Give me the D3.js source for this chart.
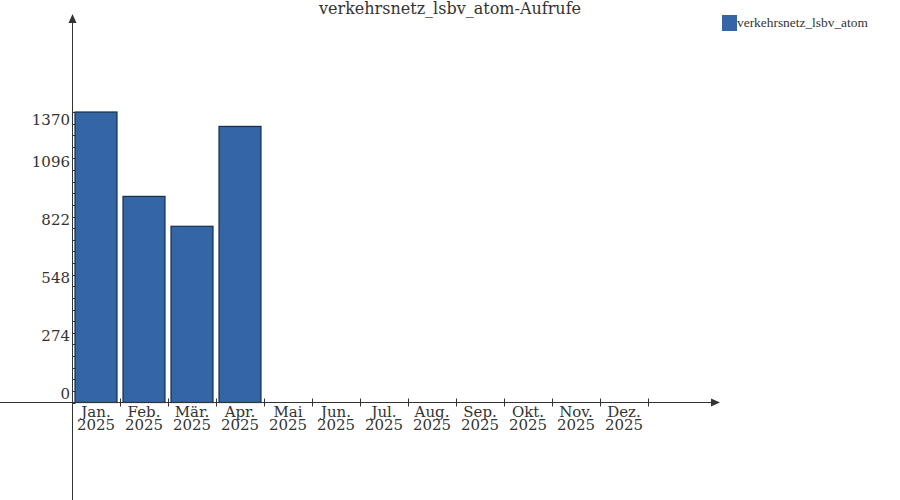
<!DOCTYPE html>
<html><head><meta charset="utf-8">
<script src="https://cdn.jsdelivr.net/npm/d3@7"></script>
<style>body{margin:0;background:#fff}svg{display:block}</style>
</head><body>
<svg id="c" width="900" height="500"></svg>
<script>
const months = ["Jan.","Feb.","Mär.","Apr.","Mai","Jun.","Jul.","Aug.","Sep.","Okt.","Nov.","Dez."];
const year = "2025";
const values = [1370, 972, 831, 1302, 0, 0, 0, 0, 0, 0, 0, 0];
const yTicks = [0, 274, 548, 822, 1096, 1370];
const seriesName = "verkehrsnetz_lsbv_atom";
const title = "verkehrsnetz_lsbv_atom-Aufrufe";

const svg = d3.select("#c");
const font = "DejaVu Serif";
const axisCol = "#333";
const x0 = 72.5, yBase = 402.5;

const x = d3.scaleBand().domain(months).range([72, 648]).paddingInner(0.125).paddingOuter(0.0625);
const y = d3.scaleLinear().domain([0, 1370]).range([yBase, 112]);

// bars
svg.append("g").selectAll("rect").data(values.map((v,i)=>({m:months[i],v})).filter(d=>d.v>0))
  .join("rect")
  .attr("x", d=>x(d.m)).attr("width", x.bandwidth())
  .attr("y", d=>y(d.v)).attr("height", d=>yBase-y(d.v))
  .attr("fill","#3465a4").attr("stroke","#172f4d").attr("stroke-width",1.2);

// x axis
const g = svg.append("g");
g.append("line").attr("x1",0).attr("x2",714).attr("y1",yBase).attr("y2",yBase).attr("stroke",axisCol);
g.append("path").attr("d",`M720,${yBase} L711,${yBase-4} L711,${yBase+4} Z`).attr("fill",axisCol);
const step = x.step();
const bounds = d3.range(months.length+1).map(i=>72+i*step);
g.selectAll(".xt").data(bounds.slice(1)).join("line")
  .attr("x1",d=>d+0.5).attr("x2",d=>d+0.5).attr("y1",yBase-4).attr("y2",yBase+4).attr("stroke",axisCol);
const lbl = g.selectAll(".xl").data(months).join("text")
  .attr("font-family",font).attr("font-size",15).attr("fill",axisCol).attr("text-anchor","middle");
lbl.append("tspan").attr("x",d=>72+months.indexOf(d)*step+step/2).attr("y",416.5).text(d=>d);
lbl.append("tspan").attr("x",d=>72+months.indexOf(d)*step+step/2).attr("y",429.5).text(year);

// y axis
g.append("line").attr("x1",x0).attr("x2",x0).attr("y1",500).attr("y2",22).attr("stroke",axisCol);
g.append("path").attr("d",`M${x0},14 L${x0-4},23 L${x0+4},23 Z`).attr("fill",axisCol);
const minor = d3.range(0, 1370+0.01, 274/5);
g.selectAll(".ym").data(minor).join("line")
  .attr("x1",x0).attr("x2",x0+3).attr("y1",d=>Math.round(y(d))+0.5).attr("y2",d=>Math.round(y(d))+0.5).attr("stroke",axisCol);
const topTick = yTicks[yTicks.length-1];
g.selectAll(".yl").data(yTicks).join("text")
  .attr("x",70).attr("y",d=> d===topTick ? y(d)+13 : y(d)-3.5).attr("text-anchor","end")
  .attr("font-family",font).attr("font-size",15).attr("fill",axisCol).text(d=>d);

// title
svg.append("text").attr("x",450).attr("y",13.5).attr("text-anchor","middle")
  .attr("font-family",font).attr("font-size",16).attr("fill",axisCol).text(title);

// legend
svg.append("rect").attr("x",722).attr("y",15).attr("width",15).attr("height",16).attr("fill","#3465a4");
svg.append("text").attr("x",737).attr("y",27).attr("font-family","Liberation Serif").attr("font-size",13.4)
  .attr("fill",axisCol).text(seriesName);
</script>
</body></html>
